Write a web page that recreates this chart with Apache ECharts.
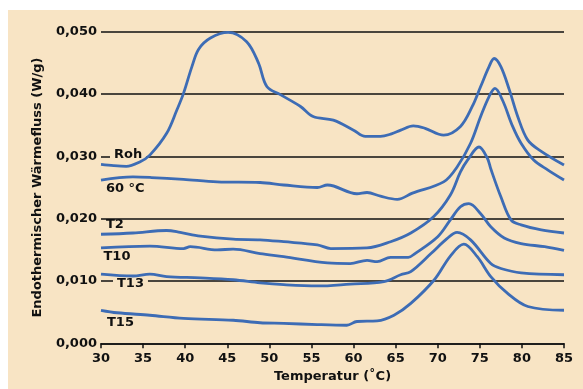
<!DOCTYPE html>
<html>
<head>
<meta charset="utf-8">
<script src="https://cdn.jsdelivr.net/npm/echarts@6/dist/echarts.min.js"></script>
<style>
html,body{margin:0;padding:0;background:#fff;}
#wrap{position:relative;width:583px;height:389px;background:#fff;overflow:hidden;}
#bg{position:absolute;left:8px;top:10px;right:0;bottom:0;background:#f8e4c4;}
#chart{position:absolute;left:0;top:0;width:583px;height:389px;}
</style>
</head>
<body>
<div id="wrap"><div id="bg"></div><div id="chart"></div></div>
<script>
// Data (temperature in °C, heat flow in W/g)
const xTicks = [30, 35, 40, 45, 50, 55, 60, 65, 70, 75, 80, 85];
const yTicks = [0, 0.01, 0.02, 0.03, 0.04, 0.05];

const rohT = [30, 31.5, 33, 34.6, 35.8, 37.8, 39, 39.8, 40.8, 41.6, 43, 45.1, 47.3, 48.7, 49.7, 51.3, 53.7, 55.2, 57.6, 60, 61.4, 63.2, 64.5, 65.6, 67.1, 68.5, 70.7, 72.7, 74.1, 75.1, 76.1, 76.7, 77.5, 78.5, 79.5, 80.7, 82.3, 85];
const rohV = [0.0287, 0.0285, 0.0284, 0.0291, 0.0302, 0.0337, 0.0374, 0.0401, 0.0444, 0.0472, 0.0490, 0.0499, 0.0484, 0.0450, 0.0412, 0.0399, 0.0380, 0.0364, 0.0358, 0.0342, 0.0332, 0.0332, 0.0336, 0.0342, 0.0349, 0.0345, 0.0334, 0.0348, 0.0380, 0.0412, 0.0444, 0.0457, 0.0444, 0.0407, 0.0364, 0.0326, 0.0308, 0.0286];

const c60T = [30, 33.8, 36, 39.8, 43.8, 48.9, 51.7, 55.7, 56.9, 60.4, 61.6, 63.2, 65.2, 67, 70.7, 72.3, 73.9, 75.1, 76.1, 76.8, 77.7, 78.9, 79.9, 81.4, 83.1, 85];
const c60V = [0.0262, 0.0267, 0.0266, 0.0263, 0.0259, 0.0258, 0.0254, 0.0250, 0.0254, 0.0240, 0.0242, 0.0236, 0.0231, 0.0241, 0.0259, 0.0283, 0.0321, 0.0364, 0.0396, 0.0409, 0.0390, 0.0348, 0.0321, 0.0294, 0.0278, 0.0262];

const t2T = [30, 33.8, 37.8, 39.4, 41.8, 45.7, 48.9, 51.7, 55.7, 57.3, 61.6, 64.4, 66.8, 69.5, 71.5, 72.7, 73.6, 74.9, 75.9, 76.3, 77.5, 78.7, 79.9, 82.3, 85];
const t2V = [0.0175, 0.0177, 0.0181, 0.0178, 0.0172, 0.0167, 0.0166, 0.0163, 0.0158, 0.0152, 0.0153, 0.0163, 0.0177, 0.0203, 0.0238, 0.0275, 0.0295, 0.0315, 0.0297, 0.0280, 0.0235, 0.0198, 0.0190, 0.0182, 0.0177];

const t10T = [30, 35.8, 39.8, 40.6, 43.8, 45.7, 48.9, 51.7, 56.9, 59.6, 61.6, 62.8, 64.4, 66.5, 67.3, 70, 71.5, 72.7, 73.7, 75.1, 76.3, 77.9, 79.9, 82.7, 85];
const t10V = [0.0153, 0.0156, 0.0152, 0.0155, 0.0150, 0.0151, 0.0144, 0.0139, 0.0129, 0.0128, 0.0133, 0.0131, 0.0138, 0.0138, 0.0144, 0.0171, 0.0198, 0.0219, 0.0224, 0.0208, 0.0187, 0.0169, 0.0160, 0.0155, 0.0149];

const t13T = [30, 33.8, 35.8, 37.8, 41.8, 45.7, 48.9, 51.7, 55.7, 59.6, 63.6, 65.6, 66.8, 69.2, 71.1, 72.3, 73.9, 76.3, 77.5, 79.9, 85];
const t13V = [0.0111, 0.0108, 0.0111, 0.0107, 0.0105, 0.0102, 0.0097, 0.0094, 0.0092, 0.0095, 0.0099, 0.0110, 0.0115, 0.0144, 0.0168, 0.0178, 0.0166, 0.0128, 0.0120, 0.0113, 0.0110];

const t15T = [30, 31.9, 35.8, 39.8, 45.7, 48.9, 51.7, 55.7, 59.2, 60.4, 62.8, 64.8, 66.8, 69.6, 71.5, 73.1, 74.7, 76.3, 78.3, 80.7, 85];
const t15V = [0.0053, 0.0049, 0.0045, 0.0040, 0.0037, 0.0033, 0.0032, 0.0030, 0.0029, 0.0035, 0.0036, 0.0045, 0.0064, 0.0102, 0.0140, 0.0159, 0.0139, 0.0107, 0.0080, 0.0059, 0.0053];

const seriesNames = ['Roh', '60 °C', 'T2', 'T10', 'T13', 'T15'];
const seriesT = [rohT, c60T, t2T, t10T, t13T, t15T];
const seriesV = [rohV, c60V, t2V, t10V, t13V, t15V];

const FONT = 'DejaVu Sans';
const BG = '#f8e4c4';
const LINE = '#3d6cb5';

const chart = echarts.init(document.getElementById('chart'), null, {renderer: 'canvas'});

function pairs(t, v) { return t.map((x, i) => [x, v[i]]); }

// series name labels (pixel placement)
const labelPos = [
  {x: 110, y: 155, bg: true},
  {x: 106, y: 188.5, bg: false},
  {x: 106, y: 225, bg: false},
  {x: 103.5, y: 256.5, bg: false},
  {x: 113, y: 283.5, bg: true},
  {x: 107, y: 323, bg: false}
];

const graphics = labelPos.map((p, i) => ({
  type: 'text',
  x: p.x,
  y: p.y,
  z: 1,
  style: {
    text: seriesNames[i],
    fill: '#111',
    font: 'bold 13px "' + FONT + '"',
    textAlign: 'left',
    textVerticalAlign: 'middle',
    backgroundColor: p.bg ? BG : 'transparent',
    padding: p.bg ? [1, 4, 1, 4] : 0
  }
}));

chart.setOption({
  backgroundColor: 'transparent',
  animation: false,
  grid: {left: 101, right: 19, top: 31.7, bottom: 45.7, containLabel: false},
  xAxis: {
    type: 'value',
    min: xTicks[0],
    max: xTicks[xTicks.length - 1],
    interval: 5,
    name: 'Temperatur (\u02DAC)',
    nameLocation: 'middle',
    nameGap: 26,
    nameTextStyle: {fontFamily: FONT, fontWeight: 'bold', fontSize: 13, color: '#111'},
    axisLine: {show: true, lineStyle: {color: '#111', width: 1.5}},
    axisTick: {show: true, length: 5, inside: false, lineStyle: {color: '#111', width: 1.5}},
    axisLabel: {color: '#111', fontFamily: FONT, fontWeight: 'bold', fontSize: 13, margin: 9},
    splitLine: {show: false}
  },
  yAxis: {
    type: 'value',
    min: yTicks[0],
    max: yTicks[yTicks.length - 1],
    interval: 0.01,
    name: 'Endothermischer Wärmefluss (W/g)',
    nameLocation: 'middle',
    nameGap: 57,
    nameTextStyle: {fontFamily: FONT, fontWeight: 'bold', fontSize: 13, color: '#111'},
    axisLine: {show: false},
    axisTick: {show: false},
    axisLabel: {
      color: '#111', fontFamily: FONT, fontWeight: 'bold', fontSize: 13, margin: 4,
      formatter: v => v.toFixed(3).replace('.', ',')
    },
    splitLine: {show: true, lineStyle: {color: '#111', width: 1.5}}
  },
  graphic: graphics,
  series: seriesNames.map((n, i) => ({
    name: n,
    type: 'line',
    data: pairs(seriesT[i], seriesV[i]),
    showSymbol: false,
    smooth: 0.35,
    z: 3,
    lineStyle: {color: LINE, width: 2.8},
    emphasis: {disabled: true}
  }))
});
</script>
</body>
</html>
